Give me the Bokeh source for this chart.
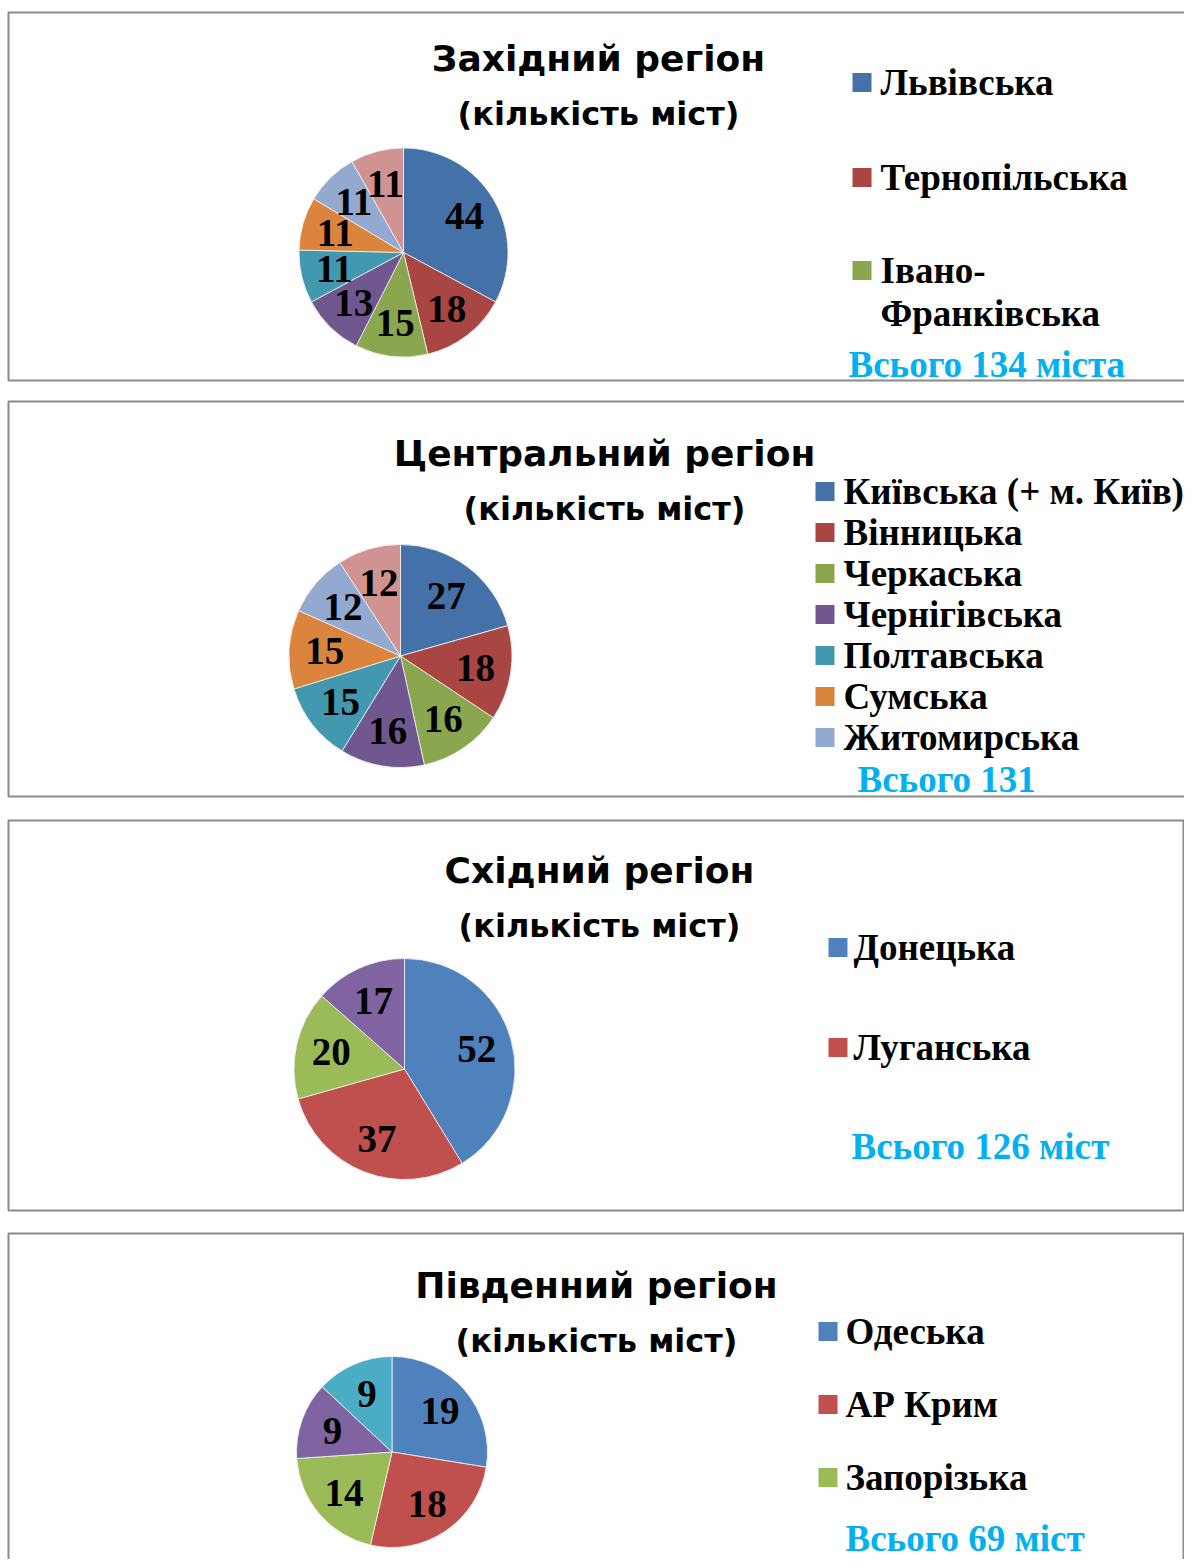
import math
from bokeh.plotting import figure
from bokeh.models import Range1d
from bokeh.core.properties import value
from bokeh.embed import file_html
from bokeh.resources import INLINE

# ---------------- data ----------------
west_values = [44, 18, 15, 13, 11, 11, 11, 11]
west_names = ["Львівська", "Тернопільська", "Івано-Франківська"]
west_title = "Західний регіон"
west_total = "Всього 134 міста"

central_values = [27, 18, 16, 16, 15, 15, 12, 12]
central_names = ["Київська (+ м. Київ)", "Вінницька", "Черкаська", "Чернігівська",
                 "Полтавська", "Сумська", "Житомирська"]
central_title = "Центральний регіон"
central_total = "Всього 131"

east_values = [52, 37, 20, 17]
east_names = ["Донецька", "Луганська"]
east_title = "Східний регіон"
east_total = "Всього 126 міст"

south_values = [19, 18, 14, 9, 9]
south_names = ["Одеська", "АР Крим", "Запорізька"]
south_title = "Південний регіон"
south_total = "Всього 69 міст"

subtitle = "(кількість міст)"

# ---------------- styles ----------------
dark_palette = ["#4472A8", "#A94542", "#8AA64F", "#70578F", "#4298AF", "#DB843D", "#94A9D0", "#D19392"]
bright_palette = ["#4F81BD", "#C0504D", "#9BBB59", "#8064A2", "#4BACC6", "#F79646"]

W, H = 1184, 1559
p = figure(width=W, height=H, x_range=Range1d(0, W), y_range=Range1d(0, H),
           output_backend="svg", toolbar_location=None, min_border=0)
p.axis.visible = False
p.grid.visible = False
p.outline_line_color = None
p.background_fill_color = "white"
p.border_fill_color = "white"


def fx(px):
    return px


def fy(py):
    return H - py


SERIF = value("Liberation Serif")
SANS = value("DejaVu Sans")


def panel(left, top, right, bottom):
    p.quad(left=[fx(left)], right=[fx(right)], top=[fy(top)], bottom=[fy(bottom)],
           fill_color="white", line_color="#8a8a8a", line_width=2)


def pie(cx, cy, r, values, colors, frac):
    total = float(sum(values))
    cum = 0.0
    starts, ends, lx, ly, txt = [], [], [], [], []
    for v in values:
        a0 = math.pi / 2 - 2 * math.pi * (cum + v) / total
        a1 = math.pi / 2 - 2 * math.pi * cum / total
        mid = (a0 + a1) / 2
        starts.append(a0)
        ends.append(a1)
        lx.append(fx(cx) + frac * r * math.cos(mid))
        ly.append(fy(cy) + frac * r * math.sin(mid))
        txt.append(str(v))
        cum += v
    n = len(values)
    p.wedge(x=[fx(cx)] * n, y=[fy(cy)] * n, radius=r, start_angle=starts, end_angle=ends,
            fill_color=colors[:n], line_color="#f4f4f4", line_width=0.8)
    p.text(x=lx, y=ly, text=txt, text_font=SERIF, text_font_style="bold",
           text_font_size="39px", text_color="black", text_align="center",
           text_baseline="middle")


def titles(cx, ty, title):
    p.text(x=[fx(cx)], y=[fy(ty)], text=[title], text_font=SANS, text_font_style="bold",
           text_font_size="36px", text_color="black", text_align="center", text_baseline="middle")
    p.text(x=[fx(cx)], y=[fy(ty + 55)], text=[subtitle], text_font=SANS, text_font_style="bold",
           text_font_size="32px", text_color="black", text_align="center", text_baseline="middle")


def legend(sq_x, tx, ys, names, colors, wraps=None):
    wraps = wraps or {}
    sq = 19
    n = len(names)
    p.quad(left=[fx(sq_x)] * n, right=[fx(sq_x + sq)] * n,
           top=[fy(y - sq / 2) for y in ys], bottom=[fy(y + sq / 2) for y in ys],
           fill_color=colors[:n], line_color=None)
    for name, y in zip(names, ys):
        lines = wraps.get(name, [name])
        for k, line in enumerate(lines):
            p.text(x=[fx(tx)], y=[fy(y + 43 * k)], text=[line], text_font=SERIF,
                   text_font_style="bold", text_font_size="37px", text_color="black",
                   text_align="left", text_baseline="middle")


def total_text(x, y, t):
    p.text(x=[fx(x)], y=[fy(y)], text=[t], text_font=SERIF, text_font_style="bold",
           text_font_size="37px", text_color="#00B0F0", text_align="left", text_baseline="middle")


# Panel 1 — West
panel(8, 12, 1230, 380)
titles(598, 58, west_title)
pie(403, 252, 104.5, west_values, dark_palette, 0.68)
legend(852, 880, [82, 177, 270], west_names, dark_palette,
       wraps={"Івано-Франківська": ["Івано-", "Франківська"]})
total_text(848, 364, west_total)

# Panel 2 — Central
panel(8, 401, 1230, 796)
titles(604, 453, central_title)
pie(400, 655.5, 111.5, central_values, dark_palette, 0.68)
legend(815, 843, [491 + 41 * i for i in range(len(central_names))], central_names, dark_palette)
total_text(857, 779, central_total)

# Panel 3 — East
panel(8, 820, 1183, 1210)
titles(599, 870, east_title)
pie(404, 1068.5, 110.5, east_values, bright_palette, 0.68)
legend(828, 853, [947, 1047], east_names, bright_palette)
total_text(851, 1146, east_total)

# Panel 4 — South
panel(8, 1233, 1183, 1620)
titles(596, 1285, south_title)
pie(391.5, 1451.5, 95.5, south_values, bright_palette, 0.66)
legend(818, 845, [1331, 1404, 1477], south_names, bright_palette)
total_text(845, 1538, south_total)

open("out.html", "w").write(file_html(p, INLINE))
